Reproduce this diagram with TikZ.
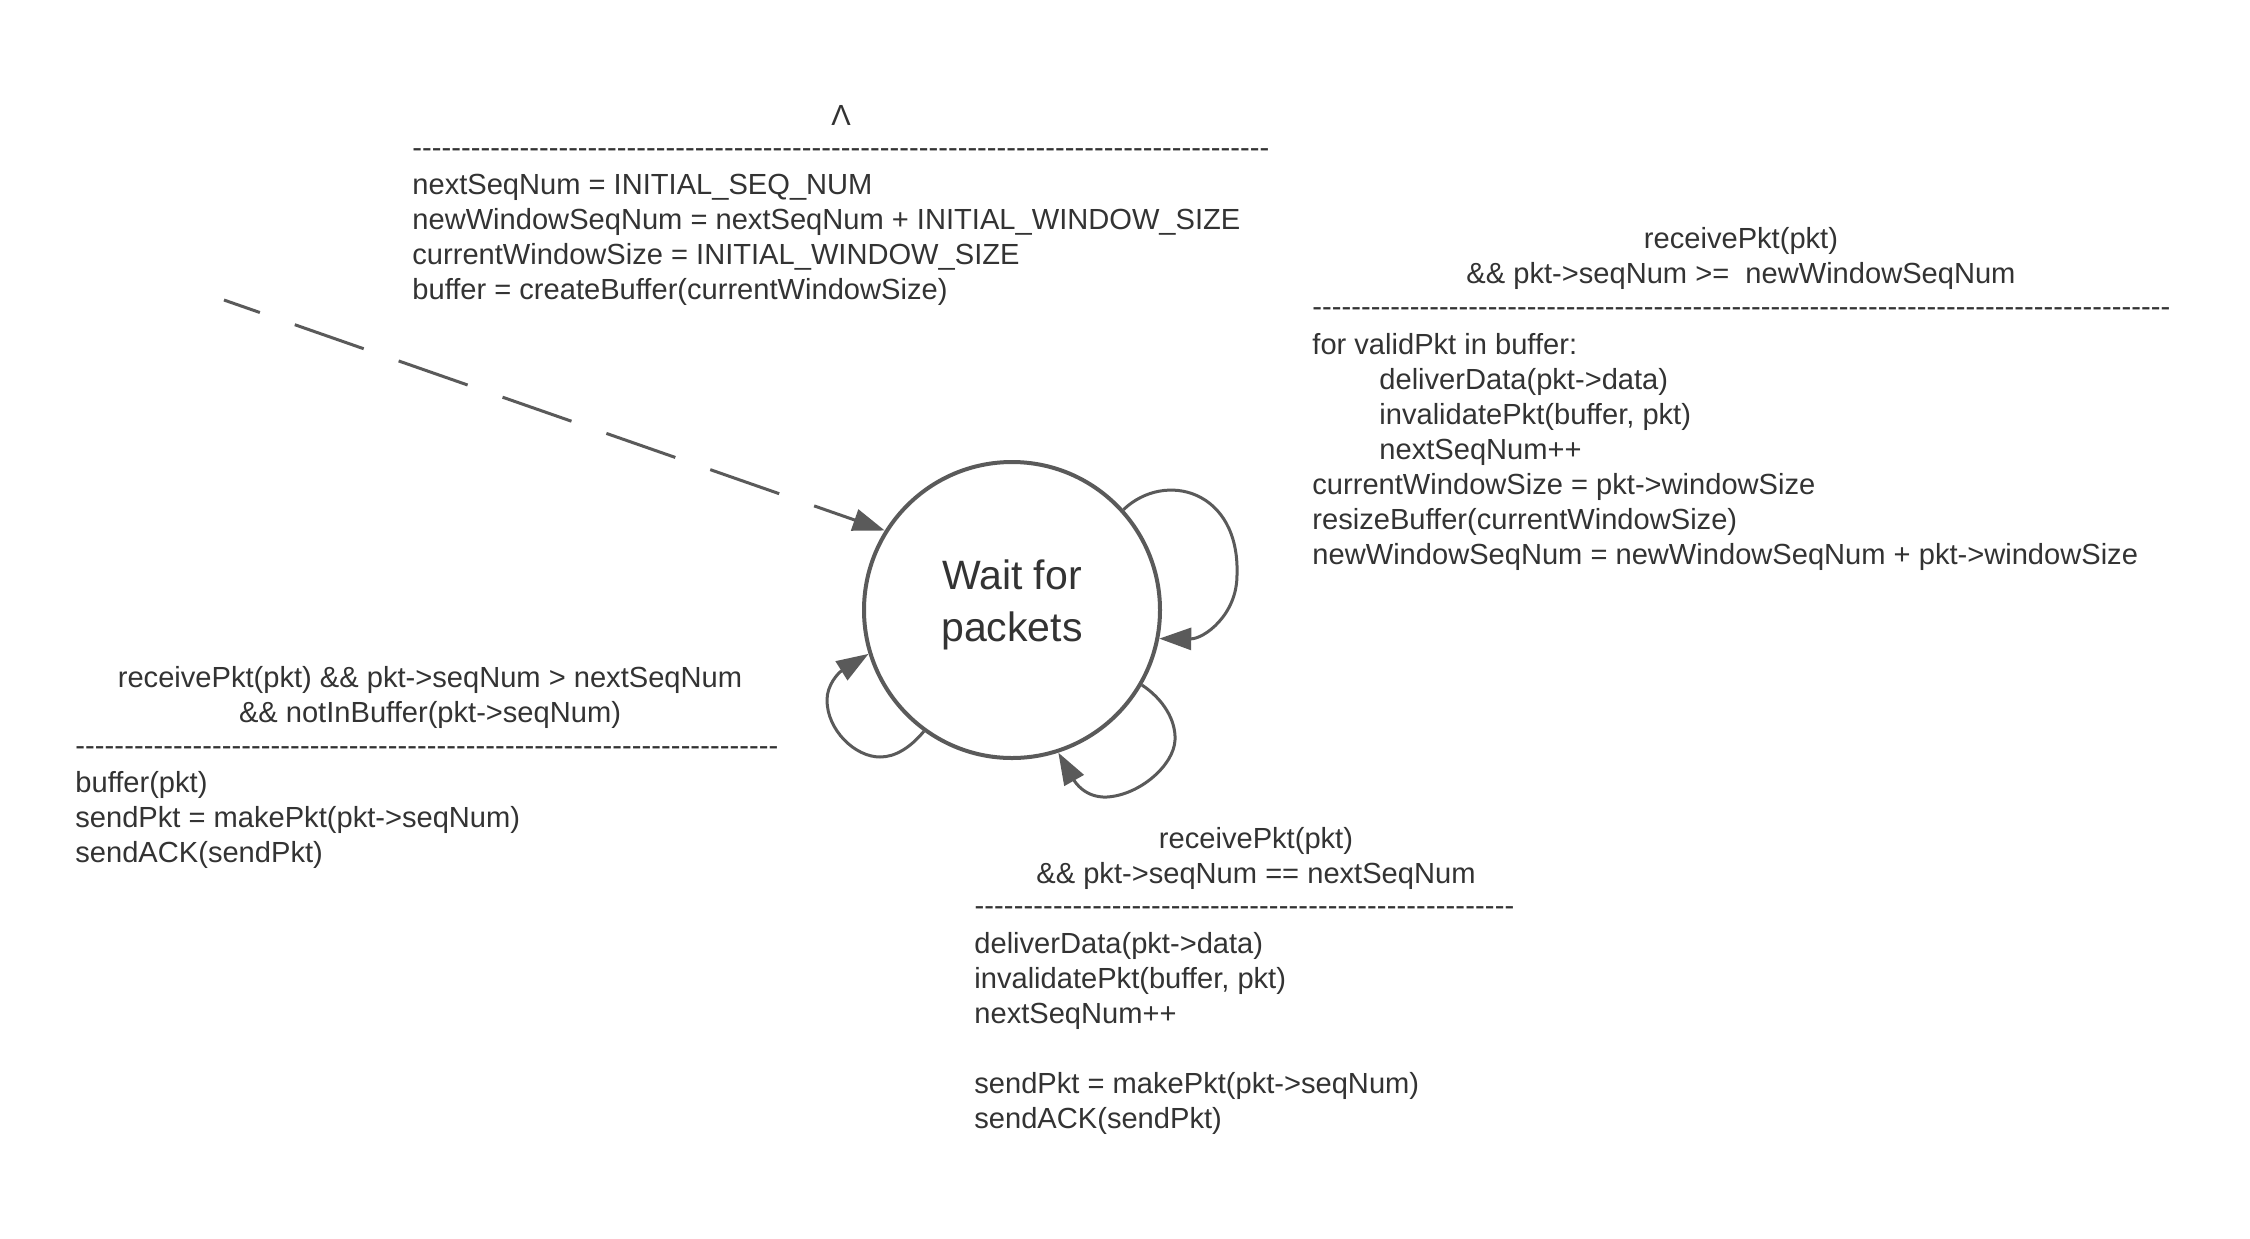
\documentclass[tikz,border=0pt]{standalone}
\usepackage{fontspec}
\setmainfont{Liberation Sans}
\usetikzlibrary{arrows.meta}

\definecolor{edgegray}{HTML}{5A5A5A}
\definecolor{inkgray}{HTML}{333333}

% a row of hyphens filling a given width (guard/action separator)
\newcommand{\dashrow}[1]{\hbox to #1{\xleaders\hbox{-}\hfill}}

\begin{document}
\begin{tikzpicture}[x=0.5pt,y=-0.5pt,
  state/.style={circle, draw=edgegray, line width=2pt, minimum size=148pt,
    inner sep=0pt, align=center, text=inkgray, text depth=9pt,
    font=\fontsize{20.5}{26}\selectfont},
  trans/.style={draw=edgegray, line width=1.5pt,
    -{Triangle[length=16pt,width=11pt]}},
  guard/.style={anchor=north, align=center, inner sep=0pt, text=inkgray,
    font=\fontsize{14.55}{17.5}\selectfont},
  action/.style={anchor=north west, align=left, inner sep=0pt, text=inkgray,
    font=\fontsize{14.55}{17.5}\selectfont},
  rulerow/.style={anchor=base west, inner sep=0pt, text=inkgray,
    font=\fontsize{14.55}{17.5}\selectfont},
]
\useasboundingbox (0,0) rectangle (2250,1238);
\fill[white] (0,0) rectangle (2250,1238);

% the single receiver state
\node[state] (w) at (1012,610) {Wait for\\packets};

% initial transition
\node[guard] (initev) at (841,101) {\strut Λ\strut};
\node[rulerow] (initrule) at (412,157) {\dashrow{428.5pt}};
\node[action] (initact) at (412,170) {\strut nextSeqNum = INITIAL\_SEQ\_NUM\\
  newWindowSeqNum = nextSeqNum + INITIAL\_WINDOW\_SIZE\\
  currentWindowSize = INITIAL\_WINDOW\_SIZE\\
  buffer = createBuffer(currentWindowSize)\strut};

% new window transition
\node[guard] (winev) at (1741,224) {\strut receivePkt(pkt)\\
  \&\& pkt->seqNum >= \ newWindowSeqNum\strut};
\node[rulerow] (winrule) at (1312,316.5) {\dashrow{429pt}};
\node[action] (winact) at (1312,330) {\strut for validPkt in buffer:\\
  \hspace*{33.5pt}deliverData(pkt->data)\\
  \hspace*{33.5pt}invalidatePkt(buffer, pkt)\\
  \hspace*{33.5pt}nextSeqNum++\\
  currentWindowSize = pkt->windowSize\\
  resizeBuffer(currentWindowSize)\\
  newWindowSeqNum = newWindowSeqNum + pkt->windowSize\strut};

% out-of-order transition
\node[guard] (oooev) at (430,663) {\strut receivePkt(pkt) \&\& pkt->seqNum > nextSeqNum\\
  \&\& notInBuffer(pkt->seqNum)\strut};
\node[rulerow] (ooorule) at (75,755.5) {\dashrow{351.5pt}};
\node[action] (oooact) at (75,768) {\strut buffer(pkt)\\
  sendPkt = makePkt(pkt->seqNum)\\
  sendACK(sendPkt)\strut};

% in-order transition
\node[guard] (inev) at (1256,824) {\strut receivePkt(pkt)\\
  \&\& pkt->seqNum == nextSeqNum\strut};
\node[rulerow] (inrule) at (974,915) {\dashrow{270pt}};
\node[action] (inact) at (974,929) {\strut deliverData(pkt->data)\\
  invalidatePkt(buffer, pkt)\\
  nextSeqNum++\\
  \strut\\
  sendPkt = makePkt(pkt->seqNum)\\
  sendACK(sendPkt)\strut};

% connectors
\coordinate (init) at (224,300);
\draw[trans, dash pattern=on 36.5pt off 18.5pt, dash phase=17.5pt] (init) -- (w.148);

\draw[trans] (w.42) .. controls (1165,470) and (1240,490) .. (1237,575)
  .. controls (1237,615) and (1204,639) .. (w.-11);

\draw[trans] (w.-30) .. controls (1163,699) and (1176,720) .. (1175,740)
  .. controls (1174,765) and (1140,795) .. (1107,797)
  .. controls (1085,798) and (1075,782) .. (w.-72);

\draw[trans] (w.-126) .. controls (910,748) and (895,757) .. (880,757)
  .. controls (855,757) and (827,730) .. (827,700)
  .. controls (827,685) and (838,673) .. (w.197);
\end{tikzpicture}
\end{document}
